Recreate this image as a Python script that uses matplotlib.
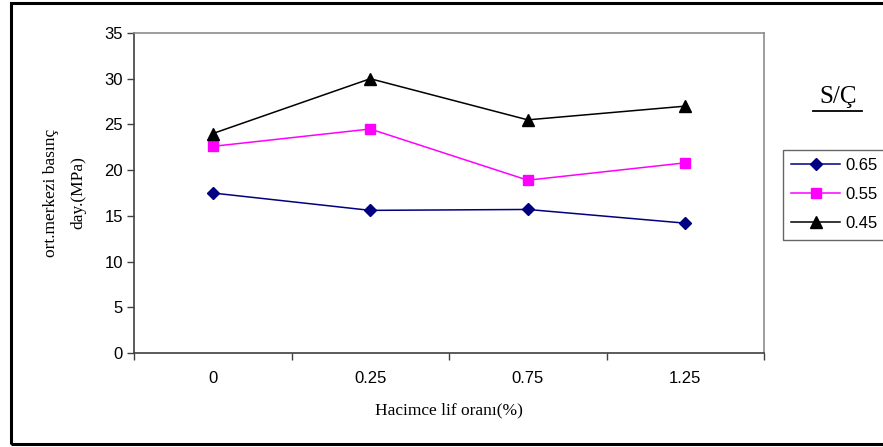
import matplotlib.pyplot as plt
from matplotlib.patches import Rectangle
from matplotlib.lines import Line2D

# data
fiber = ['0', '0.25', '0.75', '1.25']
sc_065 = [17.5, 15.6, 15.7, 14.2]
sc_055 = [22.6, 24.5, 18.9, 20.8]
sc_045 = [24.0, 30.0, 25.5, 27.0]

W, H = 883, 447
fig = plt.figure(figsize=(W / 100, H / 100), dpi=100)
ax = fig.add_axes([134 / W, 1 - 353 / H, (764 - 134) / W, (353 - 33) / H])

xs = range(len(fiber))
ax.plot(xs, sc_065, color='#000080', marker='D', markersize=6, linewidth=1.1, label='0.65')
ax.plot(xs, sc_055, color='#ff00ff', marker='s', markersize=7, linewidth=1.1, label='0.55')
ax.plot(xs, sc_045, color='black', marker='^', markersize=8, linewidth=1.1, label='0.45')

ax.set_xlim(-0.5, 3.5)
ax.set_ylim(0, 35)
ax.set_yticks(range(0, 36, 5))
ax.set_xticks(list(xs))
ax.set_xticklabels(fiber)
ax.set_xticks([-0.5, 0.5, 1.5, 2.5, 3.5], minor=True)
ax.tick_params(axis='x', which='major', length=0, pad=13)
ax.tick_params(axis='x', which='minor', length=5, width=1, color='#404040')
ax.tick_params(axis='y', length=5, width=1, color='#404040', pad=3)
for lab in ax.get_xticklabels() + ax.get_yticklabels():
    lab.set_fontfamily('Liberation Sans')
    lab.set_fontsize(12)

for s in ['top', 'right']:
    ax.spines[s].set_color('#8c8c8c')
    ax.spines[s].set_linewidth(1.2)
for s in ['left', 'bottom']:
    ax.spines[s].set_color('#404040')
    ax.spines[s].set_linewidth(1.2)

ax.text(-0.11, 0.5, 'ort.merkezi basınç\nday.(MPa)', transform=ax.transAxes,
        family='Liberation Serif', fontsize=12.5, rotation=90, linespacing=1.9,
        ha='center', va='center')
fig.text(449 / W, 1 - 410 / H, 'Hacimce lif oranı(%)', family='Liberation Serif',
         fontsize=12.5, ha='center', va='center')

# outer chart frame (runs off the right edge like the original)
fig.patches.append(Rectangle((11 / W, 3 / H), 900 / W, 441 / H, transform=fig.transFigure,
                             fill=False, edgecolor='black', linewidth=2.2))

# legend title, underlined
fig.text(838 / W, 1 - 97 / H, 'S/Ç', family='Liberation Serif', fontsize=18,
         ha='center', va='center')
fig.lines.append(Line2D([813 / W, 862 / W], [1 - 111 / H, 1 - 111 / H],
                        transform=fig.transFigure, color='black', linewidth=1.3))

leg = fig.legend(loc='upper left', bbox_to_anchor=(783 / W, 1 - 150 / H),
                 prop={'family': 'Liberation Sans', 'size': 12},
                 frameon=True, fancybox=False, borderpad=0.5, handlelength=2.9,
                 handletextpad=0.35, labelspacing=0.84, borderaxespad=0)
leg.get_frame().set_edgecolor('#404040')
leg.get_frame().set_linewidth(1)

fig.savefig('out.png', dpi=100)
